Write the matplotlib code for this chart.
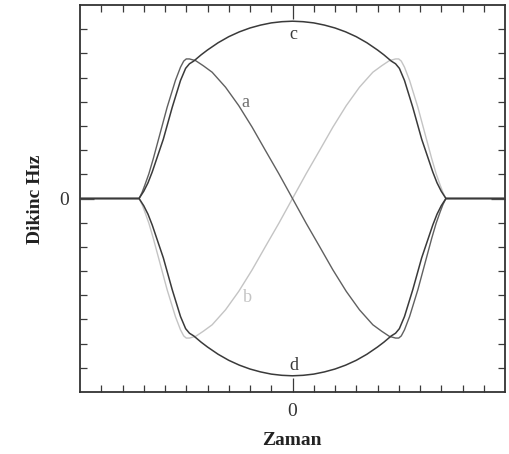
import numpy as np
import matplotlib.pyplot as plt

plt.rcParams['font.family'] = ['Liberation Serif', 'DejaVu Serif']

# curve c (upper circle) / d (lower circle)
c_x = [-10, -7.22, -7.0, -6.8, -6.6, -6.35, -6.08, -5.66, -5.27, -5.03, -4.85, -4.65,
       -4.3, -4.0, -3.5, -3.0, -2.5, -2.0, -1.5, -1.0, -0.5, 0,
       0.5, 1.0, 1.5, 2.0, 2.5, 3.0, 3.5, 4.0, 4.3,
       4.65, 4.85, 5.03, 5.27, 5.66, 6.08, 6.35, 6.6, 6.8, 7.0, 7.22, 10]
c_y = [0, 0, 0.30, 0.65, 1.10, 1.75, 2.45, 3.77, 4.88, 5.38, 5.57, 5.68,
       5.94, 6.14, 6.44, 6.69, 6.89, 7.05, 7.17, 7.26, 7.31, 7.33,
       7.31, 7.26, 7.17, 7.05, 6.89, 6.69, 6.44, 6.14, 5.94,
       5.68, 5.57, 5.38, 4.88, 3.77, 2.45, 1.75, 1.10, 0.65, 0.30, 0, 0]
d_y = [0, 0, -0.30, -0.65, -1.10, -1.75, -2.45, -3.77, -4.88, -5.38, -5.57, -5.68,
       -5.94, -6.14, -6.44, -6.69, -6.89, -7.05, -7.17, -7.26, -7.31, -7.33,
       -7.31, -7.26, -7.17, -7.05, -6.89, -6.69, -6.44, -6.14, -5.94,
       -5.68, -5.57, -5.38, -4.88, -3.77, -2.45, -1.75, -1.10, -0.65, -0.30, 0, 0]

# curve a / b (crossing curves)
a_x = [-10, -7.22, -7.08, -6.95, -6.76, -6.55, -6.32, -5.90, -5.51, -5.27, -5.12, -5.0,
       -4.85, -4.56, -4.2, -3.78, -3.15, -2.53, -1.90, -1.27, -0.64, 0,
       0.64, 1.27, 1.90, 2.53, 3.15, 3.78, 4.2, 4.56, 4.85,
       5.0, 5.12, 5.27, 5.51, 5.90, 6.32, 6.55, 6.76, 6.95, 7.08, 7.22, 10]
a_y = [0, 0, 0.25, 0.55, 1.02, 1.65, 2.40, 3.77, 4.88, 5.43, 5.68, 5.77,
       5.77, 5.70, 5.49, 5.22, 4.60, 3.84, 2.95, 1.98, 1.02, 0,
       -1.02, -1.98, -2.95, -3.84, -4.60, -5.22, -5.49, -5.70, -5.77,
       -5.77, -5.68, -5.43, -4.88, -3.77, -2.40, -1.65, -1.02, -0.55, -0.25, 0, 0]
b_y = [0, 0, -0.25, -0.55, -1.02, -1.65, -2.40, -3.77, -4.88, -5.43, -5.68, -5.77,
       -5.77, -5.70, -5.49, -5.22, -4.60, -3.84, -2.95, -1.98, -1.02, 0,
       1.02, 1.98, 2.95, 3.84, 4.60, 5.22, 5.49, 5.70, 5.77,
       5.77, 5.68, 5.43, 4.88, 3.77, 2.40, 1.65, 1.02, 0.55, 0.25, 0, 0]

curve_labels = ['a', 'b', 'c', 'd']
label_pos = [(-2.2, 3.98), (-2.13, -4.08), (0.06, 6.8), (0.06, -6.9)]
label_col = ['#707070', '#c4c4c4', '#3a3a3a', '#3a3a3a']

x_major = [0]
x_minor = list(range(-9, 10))
y_major = [0]
y_minor = list(range(-7, 8))

fig = plt.figure(figsize=(5.09, 4.54), dpi=100)
ax = fig.add_axes([80/509, 1-392/454, 425/509, 387/454])

ax.plot(a_x, b_y, color='#c4c4c4', lw=1.0, zorder=2)
ax.plot(a_x, a_y, color='#606060', lw=1.0, zorder=3)
ax.plot(c_x, c_y, color='#3a3a3a', lw=1.1, zorder=4)
ax.plot(c_x, d_y, color='#3a3a3a', lw=1.1, zorder=4)

for lab, (lx, ly), col in zip(curve_labels, label_pos, label_col):
    ax.text(lx, ly, lab, color=col, fontsize=13, ha='center', va='center', zorder=5)

ax.set_xlim(-10, 10)
ax.set_ylim(-8, 8)
ax.set_xticks(x_major)
ax.set_xticklabels(['0'])
ax.set_xticks(x_minor, minor=True)
ax.set_yticks(y_major)
ax.set_yticklabels(['0'])
ax.set_yticks(y_minor, minor=True)
ax.tick_params(which='both', direction='in', top=True, right=True,
               color='#3a3a3a', width=0.9, labelsize=14, labelcolor='#333333')
ax.tick_params(which='major', length=10, pad=8)
ax.tick_params(which='minor', length=5)
for s in ax.spines.values():
    s.set_color('#333333')
    s.set_linewidth(1.3)

fig.text(292/509, 1-445/454, 'Zaman', ha='center', va='baseline',
         fontsize=14, fontweight='bold', color='#222222')
fig.text(35/509, 1-199/454, 'Dikinc Hız', ha='center', va='center', rotation=90,
         fontsize=14, fontweight='bold', color='#222222')

plt.savefig('out.png', dpi=100)
